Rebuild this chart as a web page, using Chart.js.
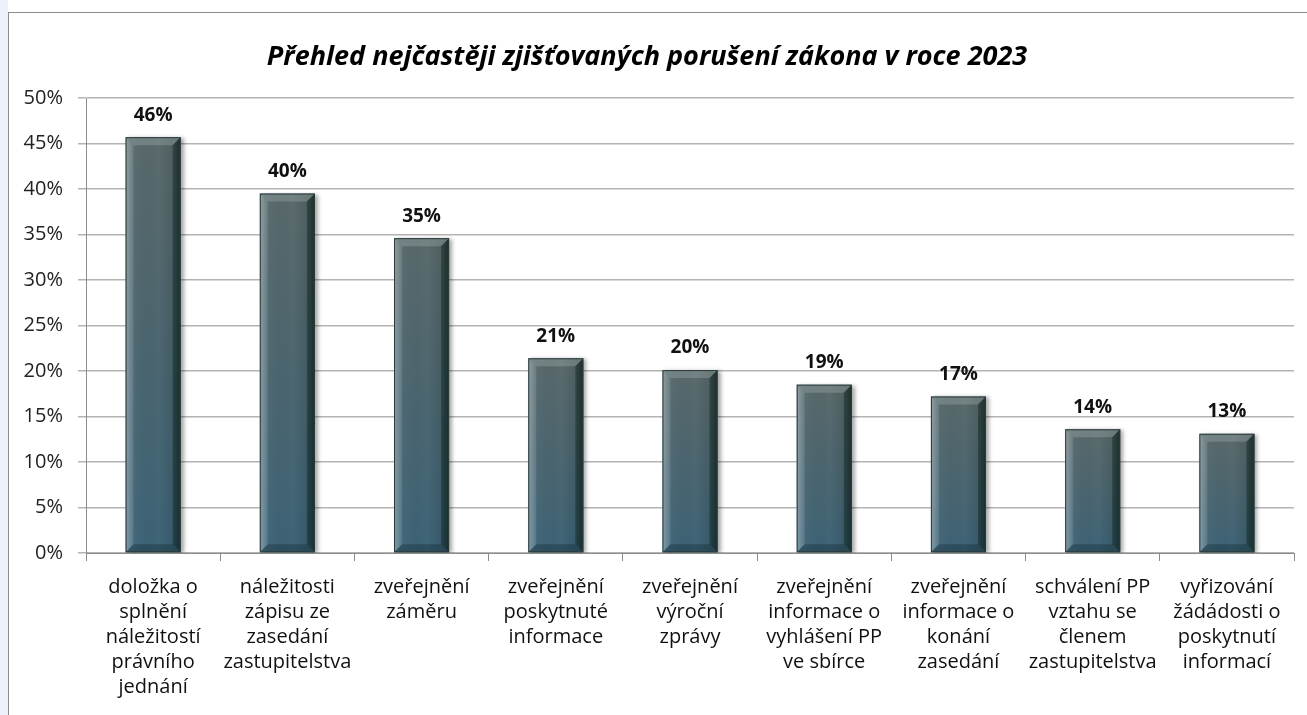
<!DOCTYPE html>
<html>
<head>
<meta charset="utf-8">
<script src="https://cdn.jsdelivr.net/npm/chart.js@4/dist/chart.umd.min.js"></script>
<style>
  html, body { margin: 0; padding: 0; background: #fff; }
  body { width: 1307px; height: 715px; overflow: hidden; position: relative; }
  #edge { position: absolute; left: 0; top: 0; width: 8px; height: 715px; background: #eaf1f8; }
  #wrap { position: absolute; left: 0; top: 0; width: 1307px; height: 715px; }
</style>
</head>
<body>
<div id="edge"></div>
<div id="wrap"><canvas id="c" width="1307" height="715"></canvas></div>
<script>
// chart data
var titleText = "Přehled nejčastěji zjišťovaných porušení zákona v roce 2023";
var categories = [
  ["doložka o", "splnění", "náležitostí", "právního", "jednání"],
  ["náležitosti", "zápisu ze", "zasedání", "zastupitelstva"],
  ["zveřejnění", "záměru"],
  ["zveřejnění", "poskytnuté", "informace"],
  ["zveřejnění", "výroční", "zprávy"],
  ["zveřejnění", "informace o", "vyhlášení PP", "ve sbírce"],
  ["zveřejnění", "informace o", "konání", "zasedání"],
  ["schválení PP", "vztahu se", "členem", "zastupitelstva"],
  ["vyřizování", "žádádosti o", "poskytnutí", "informací"]
];
var shares = [45.7, 39.5, 34.6, 21.4, 20.1, 18.5, 17.2, 13.6, 13.1];
var yTicks = [0, 5, 10, 15, 20, 25, 30, 35, 40, 45, 50];

var FONT = "'Open Sans', 'DejaVu Sans', sans-serif";

// frame around the whole chart object (runs off the right edge like the source)
var framePlugin = {
  id: "frame",
  beforeDraw: function (chart) {
    var ctx = chart.ctx;
    ctx.save();
    ctx.strokeStyle = "#8c8c8c";
    ctx.lineWidth = 1;
    ctx.strokeRect(8.5, 12.5, 1320, 720);
    ctx.restore();
  }
};

// soft drop shadow for the bars
var shadowPlugin = {
  id: "barShadow",
  beforeDatasetsDraw: function (chart) {
    var ctx = chart.ctx;
    ctx.save();
    ctx.shadowColor = "rgba(0,0,0,0.35)";
    ctx.shadowOffsetX = 3;
    ctx.shadowOffsetY = 1;
    ctx.shadowBlur = 4;
  },
  afterDatasetsDraw: function (chart) {
    chart.ctx.restore();
  }
};

// bevel edges + value labels on top of each bar
var bevelPlugin = {
  id: "bevel",
  afterDatasetsDraw: function (chart) {
    var ctx = chart.ctx;
    var meta = chart.getDatasetMeta(0);
    meta.data.forEach(function (bar, i) {
      var p = bar.getProps(["x", "y", "base", "width"], true);
      var x0 = p.x - p.width / 2, x1 = p.x + p.width / 2;
      var y0 = p.y, y1 = p.base;
      var b = 8;
      ctx.save();
      // light-to-dark sheen across the face
      var gh = ctx.createLinearGradient(x0, 0, x1, 0);
      gh.addColorStop(0, "rgba(120,160,180,0.18)");
      gh.addColorStop(0.6, "rgba(0,0,0,0)");
      gh.addColorStop(1, "rgba(10,30,25,0.2)");
      ctx.fillStyle = gh;
      ctx.fillRect(x0, y0, p.width, y1 - y0);
      // top
      ctx.fillStyle = "rgba(175,185,185,0.3)";
      ctx.beginPath();
      ctx.moveTo(x0, y0); ctx.lineTo(x1, y0); ctx.lineTo(x1 - b, y0 + b); ctx.lineTo(x0 + b, y0 + b);
      ctx.closePath(); ctx.fill();
      // left
      var gl = ctx.createLinearGradient(x0, 0, x0 + b, 0);
      gl.addColorStop(0, "rgba(255,255,255,0.3)");
      gl.addColorStop(1, "rgba(255,255,255,0.1)");
      ctx.fillStyle = gl;
      ctx.beginPath();
      ctx.moveTo(x0, y0); ctx.lineTo(x0 + b, y0 + b); ctx.lineTo(x0 + b, y1 - b); ctx.lineTo(x0, y1);
      ctx.closePath(); ctx.fill();
      // right
      var gr = ctx.createLinearGradient(x1 - b, 0, x1, 0);
      gr.addColorStop(0, "rgba(10,30,25,0.4)");
      gr.addColorStop(1, "rgba(10,30,25,0.7)");
      ctx.fillStyle = gr;
      ctx.beginPath();
      ctx.moveTo(x1, y0); ctx.lineTo(x1, y1); ctx.lineTo(x1 - b, y1 - b); ctx.lineTo(x1 - b, y0 + b);
      ctx.closePath(); ctx.fill();
      // bottom
      ctx.fillStyle = "rgba(10,30,35,0.3)";
      ctx.beginPath();
      ctx.moveTo(x0, y1); ctx.lineTo(x0 + b, y1 - b); ctx.lineTo(x1 - b, y1 - b); ctx.lineTo(x1, y1);
      ctx.closePath(); ctx.fill();
      // outline
      ctx.strokeStyle = "#2b3b3b";
      ctx.lineWidth = 1;
      ctx.strokeRect(x0 + 0.5, y0 + 0.5, p.width - 1, y1 - y0 - 1);
      ctx.restore();

      ctx.save();
      ctx.font = "bold 19px " + FONT;
      ctx.fillStyle = "#111";
      ctx.textAlign = "center";
      ctx.textBaseline = "middle";
      ctx.fillText(Math.round(shares[i]) + "%", p.x, y0 - 22);
      ctx.restore();
    });
  }
};

function barFill(context) {
  var chart = context.chart;
  if (!chart.chartArea) return "#4a6270";
  var ys = chart.scales.y;
  var top = ys.getPixelForValue(context.raw);
  var base = ys.getPixelForValue(0);
  var g = chart.ctx.createLinearGradient(0, top, 0, base);
  g.addColorStop(0, "#5b6b6c");
  g.addColorStop(0.5, "#4d6771");
  g.addColorStop(1, "#3e6579");
  return g;
}

new Chart(document.getElementById("c"), {
  type: "bar",
  data: {
    labels: categories,
    datasets: [{
      data: shares,
      backgroundColor: barFill,
      borderWidth: 0,
      categoryPercentage: 1,
      barPercentage: 0.41
    }]
  },
  options: {
    responsive: false,
    animation: false,
    layout: { padding: { left: 0, right: 13, top: 0, bottom: 0 } },
    scales: {
      x: {
        offset: true,
        grid: { display: true, drawOnChartArea: false, offset: true, color: "#8c8c8c", tickLength: 8 },
        border: { color: "#8c8c8c" },
        ticks: {
          color: "#111",
          font: { family: FONT, size: 20, lineHeight: 1.25 },
          padding: 14,
          maxRotation: 0,
          autoSkip: false
        },
        afterFit: function (s) { s.height = 162; }
      },
      y: {
        min: 0,
        max: 50,
        afterBuildTicks: function (s) { s.ticks = yTicks.map(function (v) { return { value: v }; }); },
        grid: { color: "#b3b3b3", lineWidth: 1.5, tickLength: 8 },
        border: { color: "#8c8c8c" },
        ticks: {
          color: "#222",
          font: { family: FONT, size: 20 },
          padding: 15,
          callback: function (v) { return v + "%"; }
        },
        afterFit: function (s) { s.width = 86; }
      }
    },
    plugins: {
      legend: { display: false },
      tooltip: { enabled: false },
      title: {
        display: true,
        text: titleText,
        color: "#000",
        font: { family: FONT, size: 27, weight: "bold", style: "italic", lineHeight: 1.2 },
        padding: { top: 41, bottom: 24.6 }
      }
    }
  },
  plugins: [framePlugin, shadowPlugin, bevelPlugin]
});
</script>
</body>
</html>
